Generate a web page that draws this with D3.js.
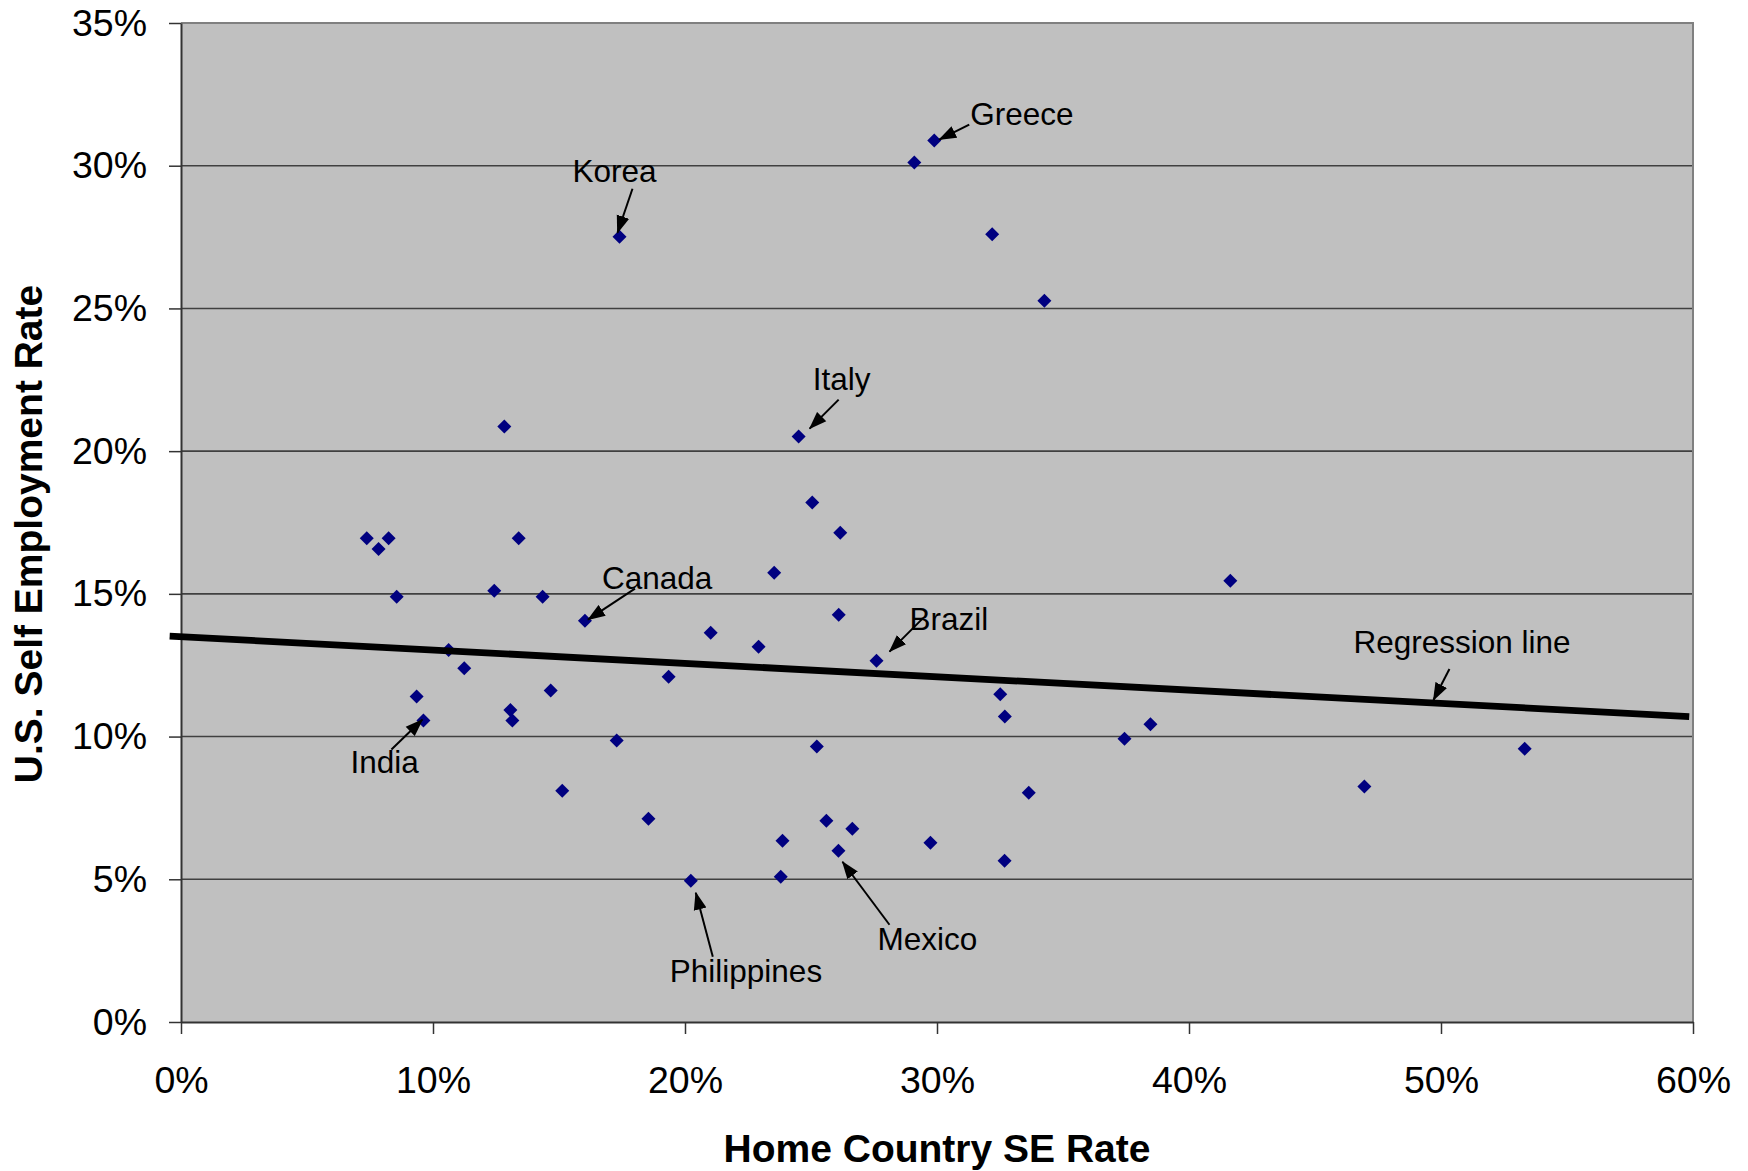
<!DOCTYPE html>
<html>
<head>
<meta charset="utf-8">
<script src="https://cdn.jsdelivr.net/npm/d3@7"></script>
<style>
  body { margin: 0; background: #fff; }
  svg { display: block; font-family: "Liberation Sans", Arial, sans-serif; }
</style>
</head>
<body>
<script>
// home country SE rate (x) vs U.S. self employment rate (y), in percent
var homeRate = [29.89, 29.10, 17.40, 32.19, 34.26, 24.51, 12.83, 25.05, 26.16, 7.37,
                7.84, 8.24, 13.40, 23.54, 41.64, 12.43, 8.56, 14.35, 16.03, 26.10,
                21.02, 22.92, 10.62, 27.60, 11.24, 19.35, 14.67, 9.35, 32.51, 13.07,
                13.15, 9.62, 32.69, 38.47, 37.44, 17.29, 25.23, 53.32, 46.96, 15.13,
                33.64, 18.55, 25.61, 26.64, 23.87, 29.74, 26.09, 32.68, 23.80, 20.23];
var usRate = [30.88, 30.11, 27.51, 27.60, 25.27, 20.51, 20.86, 18.20, 17.14, 16.95,
              16.57, 16.95, 16.95, 15.74, 15.46, 15.11, 14.90, 14.90, 14.06, 14.27,
              13.64, 13.15, 13.03, 12.66, 12.39, 12.10, 11.61, 11.40, 11.48, 10.93,
              10.56, 10.56, 10.70, 10.43, 9.92, 9.86, 9.65, 9.57, 8.25, 8.10,
              8.03, 7.12, 7.05, 6.77, 6.35, 6.28, 6.00, 5.65, 5.09, 4.95];

// labelled countries (index into the arrays above)
var labelNames = ["Greece", "Korea", "Italy", "Canada", "Brazil", "India", "Mexico", "Philippines"];
var labelIndex = [0, 2, 5, 18, 23, 31, 46, 49];

// regression line end points (percent)
var regX = [-0.45, 59.85];
var regY = [13.52, 10.70];
var regLabel = "Regression line";
var regLabelAt = 49.7;

var xTicks = [0, 10, 20, 30, 40, 50, 60];
var yTicks = [0, 5, 10, 15, 20, 25, 30, 35];

// label placement, pixels relative to the point: text, arrow start, arrow tip
var labelLayout = {
  "Greece":      { tx: 36, ty: -16, ax: 35, ay: -16, bx: 5, by: -1 },
  "Korea":       { tx: -47, ty: -55, ax: 13, ay: -48, bx: -2, by: -4 },
  "Italy":       { tx: 14, ty: -47, ax: 40, ay: -37, bx: 11, by: -8 },
  "Canada":      { tx: 17, ty: -32, ax: 50, ay: -32, bx: 3, by: -1 },
  "Brazil":      { tx: 33, ty: -31, ax: 45, ay: -41, bx: 13, by: -9 },
  "India":       { tx: -73, ty: 52, ax: -32, ay: 29, bx: -1, by: -1 },
  "Mexico":      { tx: 39, ty: 99, ax: 51, ay: 74, bx: 4, by: 11 },
  "Philippines": { tx: -21, ty: 101, ax: 22, ay: 76, bx: 5, by: 12 },
  "Regression line": { tx: -80, ty: -50, ax: 16, ay: -34, bx: 0, by: -3 }
};

var width = 1748, height = 1171;
var plotLeft = 181, plotRight = 1693, plotTop = 23, plotBottom = 1022;

var svg = d3.select("body")
  .append("svg")
  .attr("width", width)
  .attr("height", height);

var xscale = d3.scaleLinear().domain([0, 60]).range([plotLeft, plotRight]);
var yscale = d3.scaleLinear().domain([0, 35]).range([plotBottom, plotTop]);

var fmt = function(d){ return d + "%"; };

// plot background
svg.append("rect")
  .attr("x", plotLeft).attr("y", plotTop)
  .attr("width", plotRight - plotLeft).attr("height", plotBottom - plotTop)
  .attr("fill", "#c0c0c0");

// gridlines
svg.append("g").selectAll("line")
  .data(yTicks.filter(function(d){ return d > 0 && d < 35; }))
  .enter().append("line")
  .attr("x1", plotLeft).attr("x2", plotRight)
  .attr("y1", function(d){ return yscale(d); })
  .attr("y2", function(d){ return yscale(d); })
  .attr("stroke", "#404040")
  .attr("stroke-width", 1.6);

// top and right frame
svg.append("path")
  .attr("d", "M" + plotLeft + "," + plotTop + "H" + plotRight + "V" + plotBottom)
  .attr("fill", "none")
  .attr("stroke", "#808080")
  .attr("stroke-width", 2);

var xAxis = d3.axisBottom(xscale).tickValues(xTicks).tickFormat(fmt)
  .tickSize(12).tickSizeOuter(0).tickPadding(32);
var yAxis = d3.axisLeft(yscale).tickValues(yTicks).tickFormat(fmt)
  .tickSize(12).tickSizeOuter(0).tickPadding(22);

var gx = svg.append("g").attr("transform", "translate(0," + plotBottom + ")").call(xAxis);
var gy = svg.append("g").attr("transform", "translate(" + plotLeft + ",0)").call(yAxis);

[gx, gy].forEach(function(g){
  g.select(".domain").attr("stroke", "#333").attr("stroke-width", 2);
  g.selectAll(".tick line").attr("stroke", "#333").attr("stroke-width", 1.5);
  g.selectAll(".tick text")
    .attr("fill", "#000")
    .style("font-size", "37.5px")
    .style("font-family", "'Liberation Sans', Arial, sans-serif");
});

// points
var points = homeRate.map(function(d, i){ return { x: d, y: usRate[i] }; });

svg.append("g").selectAll("path")
  .data(points)
  .enter().append("path")
  .attr("transform", function(d){ return "translate(" + xscale(d.x) + "," + yscale(d.y) + ")"; })
  .attr("d", "M0,-7L7,0L0,7L-7,0Z")
  .attr("fill", "#000080");

// regression line
svg.append("line")
  .attr("x1", xscale(regX[0])).attr("y1", yscale(regY[0]))
  .attr("x2", xscale(regX[1])).attr("y2", yscale(regY[1]))
  .attr("stroke", "#000")
  .attr("stroke-width", 6.8);

// arrow head
svg.append("defs").append("marker")
  .attr("id", "head")
  .attr("markerUnits", "userSpaceOnUse")
  .attr("viewBox", "0 -7 18 14")
  .attr("refX", 17).attr("refY", 0)
  .attr("markerWidth", 18).attr("markerHeight", 14)
  .attr("orient", "auto")
  .append("path")
  .attr("d", "M0,-6.5L18,0L0,6.5Z")
  .attr("fill", "#000");

// annotation anchors
var regAt = regY[0] + (regY[1] - regY[0]) * (regLabelAt - regX[0]) / (regX[1] - regX[0]);
var annos = labelNames.map(function(n, i){
  var p = points[labelIndex[i]];
  return { name: n, px: xscale(p.x), py: yscale(p.y) };
});
annos.push({ name: regLabel, px: xscale(regLabelAt), py: yscale(regAt) });

var ag = svg.append("g");

ag.selectAll("line")
  .data(annos)
  .enter().append("line")
  .attr("x1", function(d){ return d.px + labelLayout[d.name].ax; })
  .attr("y1", function(d){ return d.py + labelLayout[d.name].ay; })
  .attr("x2", function(d){ return d.px + labelLayout[d.name].bx; })
  .attr("y2", function(d){ return d.py + labelLayout[d.name].by; })
  .attr("stroke", "#000")
  .attr("stroke-width", 2)
  .attr("marker-end", "url(#head)");

ag.selectAll("text")
  .data(annos)
  .enter().append("text")
  .attr("x", function(d){ return d.px + labelLayout[d.name].tx; })
  .attr("y", function(d){ return d.py + labelLayout[d.name].ty; })
  .style("font-size", "31.5px")
  .attr("fill", "#000")
  .text(function(d){ return d.name; });

// axis titles
svg.append("text")
  .attr("x", (plotLeft + plotRight) / 2)
  .attr("y", 1162)
  .attr("text-anchor", "middle")
  .style("font-size", "39px")
  .style("font-weight", "bold")
  .text("Home Country SE Rate");

svg.append("text")
  .attr("transform", "translate(42,534) rotate(-90)")
  .attr("text-anchor", "middle")
  .style("font-size", "39px")
  .style("font-weight", "bold")
  .text("U.S. Self Employment Rate");
</script>
</body>
</html>
